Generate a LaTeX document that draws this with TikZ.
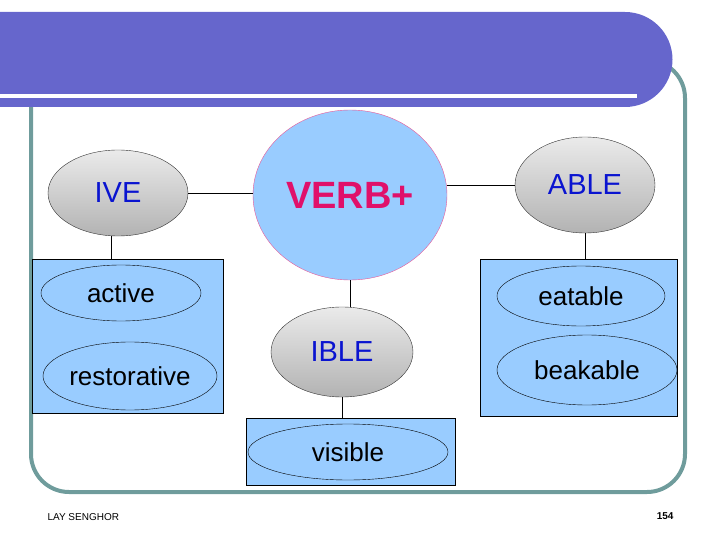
\documentclass[tikz,border=0pt]{standalone}
\usepackage{fontspec}
\setmainfont{Liberation Sans}
\usetikzlibrary{shapes.geometric}
\definecolor{frame}{HTML}{6F9C9C}
\definecolor{bar}{HTML}{6666CC}
\definecolor{lb}{HTML}{99CCFF}
\definecolor{verb}{HTML}{E0106A}
\definecolor{tblue}{HTML}{0A14D0}
\begin{document}
\begin{tikzpicture}[x=1pt,y=-1pt,
  gray/.style={ellipse,draw=black!80,top color=white!92!black,bottom color=black!30,inner sep=0pt},
  word/.style={ellipse,draw=black,fill=lb,inner sep=0pt,font=\fontsize{26}{28}\selectfont},
  box/.style={draw=black,fill=lb,inner sep=0pt},
  ln/.style={draw=black,line width=0.6pt}]
\useasboundingbox (0,0) rectangle (720,540);
\draw[frame,line width=4pt,rounded corners=38pt] (31,60) rectangle (685,492);
\fill[bar] (0,12) -- (625,12) arc[start angle=-90,end angle=90,radius=47.5] -- (0,107) -- cycle;
\fill[white] (0,94) rectangle (637,98);
% boxes
\node[box,minimum width=191pt,minimum height=154pt] (lbox) at (127.5,336) {};
\node[box,minimum width=197pt,minimum height=157pt] (rbox) at (578.5,337.5) {};
\node[box,minimum width=209pt,minimum height=67pt] (vbox) at (350.5,451.5) {};
% top ellipses
\node[gray,minimum width=140pt,minimum height=86pt,text=tblue,font=\fontsize{29}{30}\selectfont] (ive) at (118,193) {IVE};
\node[ellipse,draw=verb!70,fill=lb,minimum width=194pt,minimum height=170pt,inner sep=0pt,text=verb,font=\bfseries\fontsize{38}{40}\selectfont] (verb) at (350,195) {VERB+};
\node[gray,minimum width=140pt,minimum height=96pt,text=tblue,font=\fontsize{29}{30}\selectfont] (able) at (585,185) {ABLE};
\node[gray,minimum width=142pt,minimum height=90pt,text=tblue,font=\fontsize{29}{30}\selectfont] (ible) at (342,352) {IBLE};
% words
\node[word,minimum width=160pt,minimum height=56pt] (active) at (121,293) {active};
\node[word,minimum width=174pt,minimum height=68pt] (rest) at (130,376) {restorative};
\node[word,minimum width=168pt,minimum height=60pt] (eat) at (581,296) {eatable};
\node[word,minimum width=180pt,minimum height=70pt] (beak) at (587,370) {beakable};
\node[word,minimum width=200pt,minimum height=56pt] (vis) at (348,452) {visible};
% connectors
\draw[ln] (ive.east) -- (verb.west |- ive.east);
\draw[ln] (verb.east |- able.west) -- (able.west);
\draw[ln] (ive.south -| 111,0) -- (111,259);
\draw[ln] (able.south) -- (able.south |- rbox.north);
\draw[ln] (verb.south) -- (verb.south |- ible.north);
\draw[ln] (ible.south) -- (ible.south |- vbox.north);
\node[anchor=west,font=\fontsize{10}{12}\selectfont] (auth) at (44,517) {LAY SENGHOR};
\node[anchor=east,font=\bfseries\fontsize{10}{12}\selectfont] (pg) at (677,516) {154};
\end{tikzpicture}
\end{document}
